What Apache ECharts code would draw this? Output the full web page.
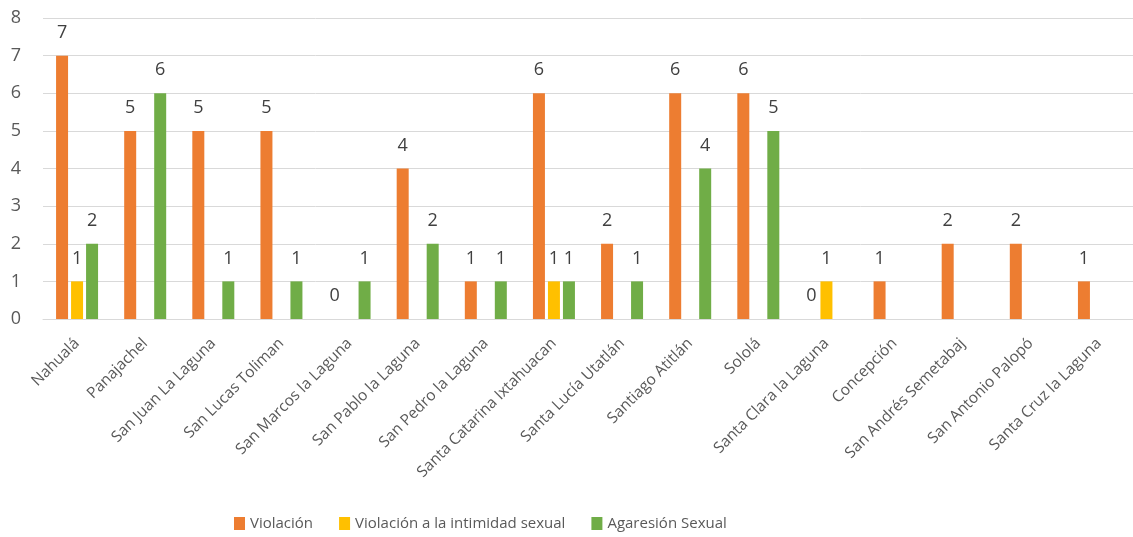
<!DOCTYPE html>
<html>
<head>
<meta charset="utf-8">
<script src="https://cdn.jsdelivr.net/npm/echarts@6/dist/echarts.min.js"></script>
<style>
  html, body { margin: 0; padding: 0; background: #fff; }
  #chart { width: 1133px; height: 537px; }
</style>
</head>
<body>
<div id="chart"></div>
<script>
// Municipios
const categories = [
  'Nahualá', 'Panajachel', 'San Juan La Laguna', 'San Lucas Toliman',
  'San Marcos la Laguna', 'San Pablo la Laguna', 'San Pedro la Laguna',
  'Santa Catarina Ixtahuacan', 'Santa Lucía Utatlán', 'Santiago Atitlán',
  'Sololá', 'Santa Clara la Laguna', 'Concepción', 'San Andrés Semetabaj',
  'San Antonio Palopó', 'Santa Cruz la Laguna'
];

// Casos por tipo de delito (null = sin dato)
const violacion = [7, 5, 5, 5, 0, 4, 1, 6, 2, 6, 6, 0, 1, 2, 2, 1];
const violacionIntimidad = [1, null, null, null, null, null, null, 1, null, null, null, 1, null, null, null, null];
const agresionSexual = [2, 6, 1, 1, 1, 2, 1, 1, 1, 4, 5, null, null, null, null, null];

const seriesNames = ['Violación', 'Violación a la intimidad sexual', 'Agaresión Sexual'];
const seriesColors = ['#ED7D31', '#FFC000', '#70AD47'];
const yTicks = { min: 0, max: 8, interval: 1 };

const FONT = 'Open Sans';
const TEXT = '#595959';

function barSeries(name, data, color) {
  return {
    name: name,
    type: 'bar',
    data: data,
    barWidth: 12,
    barGap: '25%',
    itemStyle: { color: color },
    label: {
      show: true,
      position: 'top',
      distance: 14,
      fontFamily: FONT,
      fontSize: 18,
      color: '#404040'
    }
  };
}

const chart = echarts.init(document.getElementById('chart'), null, { renderer: 'canvas' });
chart.setOption({
  animation: false,
  backgroundColor: '#ffffff',
  grid: { left: 43, right: -8, top: 18, bottom: 218, containLabel: false },
  legend: {
    bottom: 1,
    left: 229,
    itemWidth: 11,
    itemHeight: 13,
    itemGap: 26,
    icon: 'rect',
    textStyle: { fontFamily: FONT, fontSize: 15, color: TEXT },
    data: seriesNames
  },
  xAxis: {
    type: 'category',
    data: categories,
    axisLine: { show: true, lineStyle: { color: '#d9d9d9', width: 1 } },
    axisTick: { show: false },
    axisLabel: {
      rotate: 45,
      interval: 0,
      margin: 22,
      fontFamily: FONT,
      fontSize: 15.5,
      color: TEXT
    }
  },
  yAxis: {
    type: 'value',
    min: yTicks.min,
    max: yTicks.max,
    interval: yTicks.interval,
    axisLine: { show: false },
    axisTick: { show: false },
    axisLabel: { fontFamily: FONT, fontSize: 18, color: TEXT, margin: 22 },
    splitLine: { lineStyle: { color: '#d9d9d9', width: 1 } }
  },
  series: [
    barSeries(seriesNames[0], violacion, seriesColors[0]),
    barSeries(seriesNames[1], violacionIntimidad, seriesColors[1]),
    barSeries(seriesNames[2], agresionSexual, seriesColors[2])
  ]
});
</script>
</body>
</html>
